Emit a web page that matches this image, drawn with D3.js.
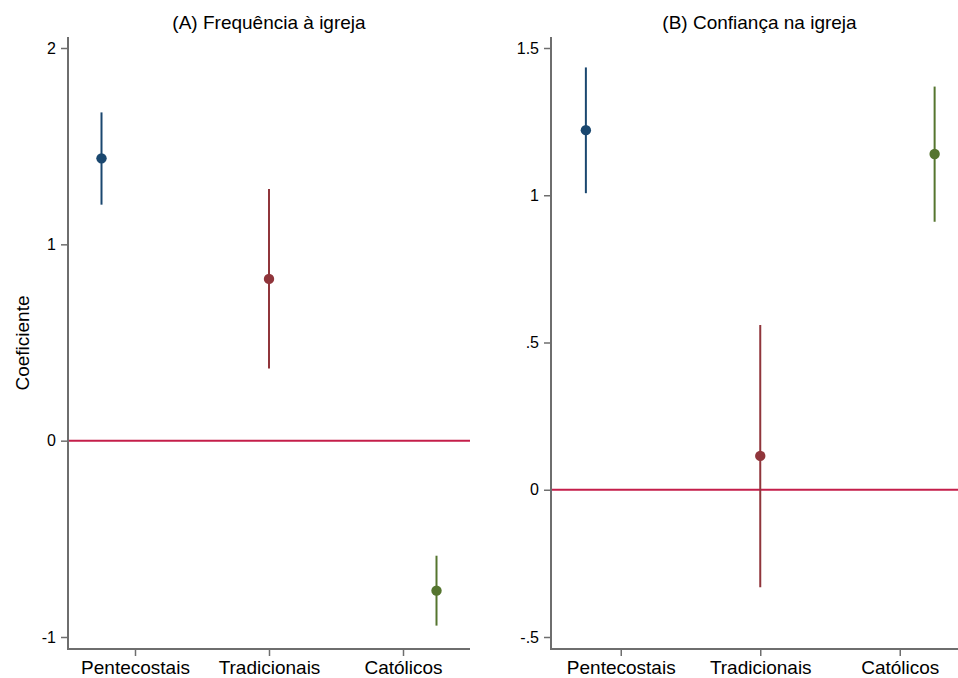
<!DOCTYPE html>
<html lang="pt">
<head>
<meta charset="UTF-8">
<title>Coeficientes</title>
<style>
  body { margin: 0; background: #fff; }
  svg { display: block; font-family: "Liberation Sans", Arial, sans-serif; }
</style>
</head>
<body>
<svg id="chart" width="958" height="678"></svg>
<script src="https://d3js.org/d3.v7.min.js"></script>
<script>
// categories and their offsets (coefplot style: one series per group)
const categories = ["Pentecostais", "Tradicionais", "Católicos"];
const offsets = [-0.25, 0, 0.25];
const colors = ["#1a476f", "#90353b", "#55752f"];

// panel A: Frequência à igreja
const freqCoef = [1.438, 0.824, -0.764];
const freqLo = [1.202, 0.368, -0.942];
const freqHi = [1.672, 1.282, -0.586];
const freqTicks = [-1, 0, 1, 2];

// panel B: Confiança na igreja
const confCoef = [1.221, 0.115, 1.140];
const confLo = [1.007, -0.331, 0.910];
const confHi = [1.434, 0.559, 1.369];
const confTicks = [-0.5, 0, 0.5, 1, 1.5];

const svg = d3.select("#chart");
const zeroColor = "#c41e4a";
const axisColor = "#6e6e6e";

function fmt(v) {
  // stata-like labels: .5, -.5, 1.5
  let s = String(v);
  return s.replace(/^0\./, ".").replace(/^-0\./, "-.");
}

function drawPanel(opts) {
  const g = svg.append("g");
  const right = opts.left + opts.width;
  const x = d3.scaleLinear().domain([0.5, 3.5]).range([opts.left, right]);
  const y = d3.scaleLinear().domain(opts.yDomain).range([opts.yPix[0], opts.yPix[1]]);
  const bottom = 649, top = 37;

  // title
  g.append("text")
    .attr("x", (opts.left + Math.min(right, 958)) / 2 + opts.titleShift)
    .attr("y", 29)
    .attr("text-anchor", "middle")
    .style("font-size", "19px")
    .text(opts.title);

  // zero line
  g.append("line")
    .attr("x1", opts.left).attr("x2", right)
    .attr("y1", y(0)).attr("y2", y(0))
    .attr("stroke", zeroColor).attr("stroke-width", 2);

  // y axis
  const yAxis = d3.axisLeft(y).tickValues(opts.ticks).tickFormat(fmt).tickSize(7).tickPadding(5);
  const ya = g.append("g").attr("transform", `translate(${opts.left},0)`).call(yAxis);
  ya.select(".domain").remove();
  ya.selectAll(".tick line").attr("stroke", axisColor).attr("stroke-width", 1.5);
  ya.selectAll(".tick text").style("font-size", "16px").attr("fill", "#000").attr("font-family", null);
  g.append("line")
    .attr("x1", opts.left).attr("x2", opts.left)
    .attr("y1", top).attr("y2", bottom + 1)
    .attr("stroke", axisColor).attr("stroke-width", 2);

  // x axis
  const xAxis = d3.axisBottom(x).tickValues([1, 2, 3]).tickFormat(d => categories[d - 1]).tickSize(7).tickPadding(5);
  const xa = g.append("g").attr("transform", `translate(0,${bottom})`).call(xAxis);
  xa.select(".domain").remove();
  xa.selectAll(".tick line").attr("stroke", axisColor).attr("stroke-width", 1.5);
  xa.selectAll(".tick text").style("font-size", "19px").attr("fill", "#000").attr("font-family", null);
  g.append("line")
    .attr("x1", opts.left - 1).attr("x2", right)
    .attr("y1", bottom).attr("y2", bottom)
    .attr("stroke", axisColor).attr("stroke-width", 2);

  // error bars and points
  const data = categories.map((c, i) => ({
    pos: i + 1 + offsets[i], coef: opts.coef[i], lo: opts.lo[i], hi: opts.hi[i], color: colors[i]
  }));
  g.selectAll(".ci").data(data).enter().append("line")
    .attr("x1", d => x(d.pos)).attr("x2", d => x(d.pos))
    .attr("y1", d => y(d.lo)).attr("y2", d => y(d.hi))
    .attr("stroke", d => d.color).attr("stroke-width", 2);
  g.selectAll(".pt").data(data).enter().append("circle")
    .attr("cx", d => x(d.pos)).attr("cy", d => y(d.coef))
    .attr("r", 5.2).attr("fill", d => d.color);
}

drawPanel({
  left: 68, width: 402, titleShift: 0, title: "(A) Frequência à igreja",
  yDomain: [2, -1], yPix: [48, 637], ticks: freqTicks,
  coef: freqCoef, lo: freqLo, hi: freqHi
});
drawPanel({
  left: 551, width: 418.5, titleShift: 5, title: "(B) Confiança na igreja",
  yDomain: [1.5, -0.5], yPix: [48, 637], ticks: confTicks,
  coef: confCoef, lo: confLo, hi: confHi
});

// y axis title
svg.append("text")
  .attr("transform", "translate(29,343) rotate(-90)")
  .attr("text-anchor", "middle")
  .style("font-size", "19px")
  .text("Coeficiente");
</script>
</body>
</html>
